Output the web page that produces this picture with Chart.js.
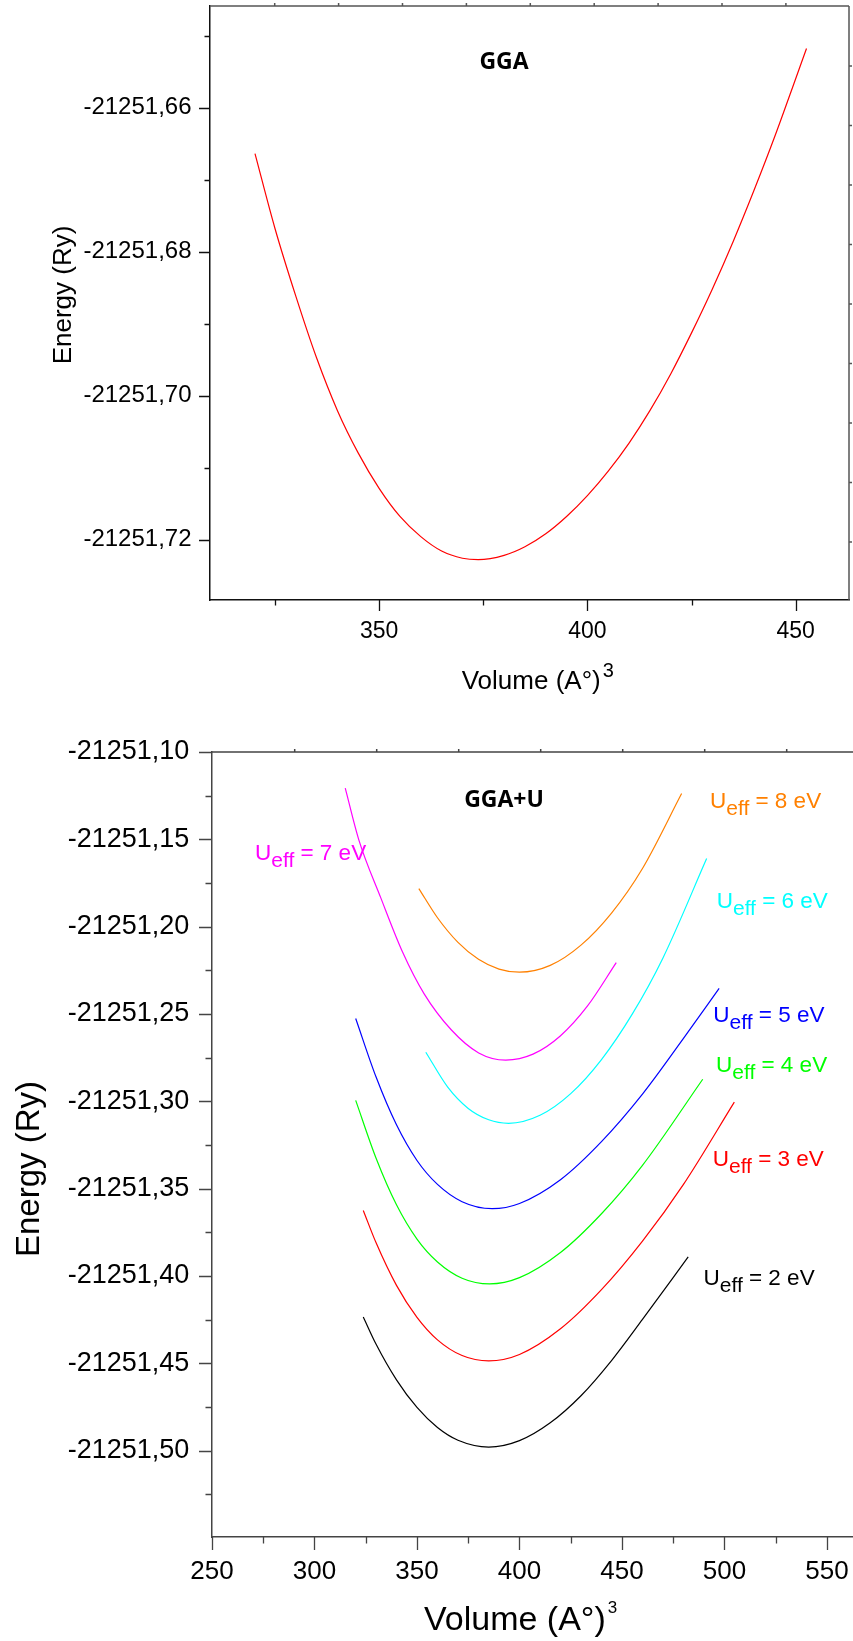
<!DOCTYPE html>
<html>
<head>
<meta charset="utf-8">
<title>E(V) curves GGA / GGA+U</title>
<script src="https://cdn.jsdelivr.net/npm/chart.js@4.4.0/dist/chart.umd.min.js"></script>
<style>
  html, body { margin: 0; padding: 0; background: #fff; }
  .panel { position: relative; width: 853px; }
  #topPanel { height: 700px; }
  #bottomPanel { height: 941px; }
</style>
</head>
<body>
<div class="panel" id="topPanel"><canvas id="ggaChart"></canvas></div>
<div class="panel" id="bottomPanel"><canvas id="uChart"></canvas></div>
<script>
// GGA curve (top panel) - volume (A°)^3 and energy (Ry)
const ggaVolume = [320.2, 325, 330, 335, 340, 345, 350, 355, 360, 365, 370, 373.8, 380, 385, 390, 395,
                   400, 405, 410, 415, 420, 425, 430, 435, 440, 445, 450, 452.6];
const ggaEnergy = [-21251.6664, -21251.6768, -21251.6862, -21251.6948, -21251.7021, -21251.7080, -21251.7129,
                   -21251.7168, -21251.7196, -21251.7216, -21251.7226, -21251.7228, -21251.7222, -21251.7210,
                   -21251.7192, -21251.7168, -21251.7139, -21251.7105, -21251.7066, -21251.7021, -21251.6970,
                   -21251.6913, -21251.6852, -21251.6786, -21251.6715, -21251.6640, -21251.6560, -21251.6518];

// GGA+U curves (bottom panel), one pair of arrays per Ueff
const vol2 = [323.8, 330, 340, 350, 360, 370, 385, 400, 415, 430, 445, 460, 482.3];
const en2  = [-21251.4235, -21251.4390, -21251.4595, -21251.4753, -21251.4868, -21251.4941, -21251.4980,
              -21251.4943, -21251.4841, -21251.4686, -21251.4483, -21251.4249, -21251.3891];
const vol3 = [323.8, 330, 340, 350, 360, 372, 385, 400, 420, 440, 460, 480, 504.8];
const en3  = [-21251.3625, -21251.3809, -21251.4054, -21251.4237, -21251.4366, -21251.4456, -21251.4487,
              -21251.4450, -21251.4303, -21251.4079, -21251.3801, -21251.3476, -21251.3005];
const vol4 = [320.1, 330, 340, 350, 360, 372, 385.4, 400, 420, 440, 460, 489.4];
const en4  = [-21251.2995, -21251.3325, -21251.3593, -21251.3789, -21251.3920, -21251.4013, -21251.4046,
              -21251.4010, -21251.3866, -21251.3644, -21251.3367, -21251.2874];
const vol5 = [320.1, 330, 340, 350, 360, 372, 386.7, 400, 420, 440, 460, 480, 497.4];
const en5  = [-21251.2526, -21251.2860, -21251.3135, -21251.3339, -21251.3476, -21251.3575, -21251.3615,
              -21251.3585, -21251.3449, -21251.3231, -21251.2959, -21251.2640, -21251.2354];
const vol6 = [354.3, 365, 375, 385, 394.7, 410, 425, 440, 455, 470, 491.3];
const en6  = [-21251.2719, -21251.2919, -21251.3041, -21251.3106, -21251.3126, -21251.3080, -21251.2956,
              -21251.2761, -21251.2501, -21251.2179, -21251.1610];
const vol7 = [315.0, 321.7, 332.3, 342.9, 353.5, 366.8, 380.1, 393.3, 406.6, 419.9, 433.2, 447.2];
const en7  = [-21251.1207, -21251.1506, -21251.1834, -21251.2144, -21251.2385, -21251.2592, -21251.2723,
              -21251.2764, -21251.2730, -21251.2626, -21251.2454, -21251.2206];
const vol8 = [350.9, 360, 370, 380, 390, 400, 415, 430, 445, 460, 479.1];
const en8  = [-21251.1782, -21251.1949, -21251.2090, -21251.2187, -21251.2243, -21251.2261, -21251.2222,
              -21251.2106, -21251.1921, -21251.1667, -21251.1238];

const uValues = [2, 3, 4, 5, 6, 7, 8];
const uVolumes = [vol2, vol3, vol4, vol5, vol6, vol7, vol8];
const uEnergies = [en2, en3, en4, en5, en6, en7, en8];
const uColors = ['#000000', '#ff0000', '#00ff00', '#0000ff', '#00ffff', '#ff00ff', '#ff8000'];

const pts = (xs, ys) => xs.map((x, i) => ({ x: x, y: ys[i] }));
const comma = v => v.toFixed(2).replace('.', ',');
const FONT = '"Liberation Sans", Arial, sans-serif';

function drawUeff(ctx, lab) {
  ctx.fillStyle = lab.color;
  ctx.textAlign = 'left';
  ctx.textBaseline = 'alphabetic';
  ctx.font = '22.5px ' + FONT;
  ctx.fillText('U', lab.x, lab.y);
  let cx = lab.x + ctx.measureText('U').width;
  ctx.font = '21px ' + FONT;
  ctx.fillText('eff', cx, lab.y + 7);
  cx += ctx.measureText('eff').width;
  ctx.font = '22.5px ' + FONT;
  ctx.fillText(' = ' + lab.u + ' eV', cx, lab.y);
}

// ticks, frame and the texts around the plot
const axisDeco = {
  id: 'axisDeco',
  afterDraw(chart, args, o) {
    const { ctx, chartArea: a } = chart;
    const xs = chart.scales.x, ys = chart.scales.y;
    ctx.save();

    ctx.strokeStyle = o.tickColor;
    ctx.lineWidth = o.tickWidth;
    ctx.beginPath();
    xs.ticks.forEach(t => {
      const px = Math.round(xs.getPixelForValue(t.value)) + 0.5;
      ctx.moveTo(px, a.bottom);
      ctx.lineTo(px, a.bottom + (t.label ? o.major : o.minor));
    });
    ys.ticks.forEach(t => {
      const py = Math.round(ys.getPixelForValue(t.value)) + 0.5;
      ctx.moveTo(a.left - (t.label ? o.major : o.minor), py);
      ctx.lineTo(a.left, py);
    });
    ctx.stroke();

    ctx.strokeStyle = o.frameColor;
    ctx.lineWidth = o.frameWidth;
    ctx.beginPath();
    ctx.moveTo(a.left, a.top);
    ctx.lineTo(a.right, a.top);
    for (let px = o.topTicks.start; px < a.right; px += o.topTicks.step) {
      ctx.moveTo(px, a.top);
      ctx.lineTo(px, a.top - 3);
    }
    if (o.rightTicks) {
      ctx.moveTo(a.right, a.top);
      ctx.lineTo(a.right, a.bottom);
      for (let py = o.rightTicks.start; py < a.bottom; py += o.rightTicks.step) {
        ctx.moveTo(a.right, py);
        ctx.lineTo(a.right + 3, py);
      }
    }
    ctx.stroke();

    // panel name
    ctx.fillStyle = '#000';
    ctx.textAlign = 'center';
    ctx.textBaseline = 'alphabetic';
    ctx.font = 'bold 23px "Open Sans", sans-serif';
    ctx.fillText(o.name.text, o.name.x, o.name.y);

    // y title
    ctx.save();
    ctx.translate(o.yTitle.x, o.yTitle.y);
    ctx.rotate(-Math.PI / 2);
    ctx.textBaseline = 'middle';
    ctx.font = o.yTitle.size + 'px ' + FONT;
    ctx.fillText('Energy (Ry)', 0, 0);
    ctx.restore();

    // x title with superscript
    ctx.textAlign = 'left';
    ctx.font = o.xTitle.size + 'px ' + FONT;
    ctx.fillText('Volume (A°)', o.xTitle.x, o.xTitle.y);
    const w = ctx.measureText('Volume (A°)').width;
    ctx.font = o.xTitle.supSize + 'px ' + FONT;
    ctx.fillText('3', o.xTitle.x + w + 2, o.xTitle.y - o.xTitle.supRise);

    (o.labels || []).forEach(l => drawUeff(ctx, l));
    ctx.restore();
  }
};

function baseOptions(xMin, xMax, xStep, yMin, yMax, yStep, yMajor, sizes) {
  return {
    animation: false,
    responsive: true,
    maintainAspectRatio: false,
    devicePixelRatio: 1,
    layout: { padding: sizes.padding },
    elements: { point: { radius: 0 }, line: { borderWidth: 1.2, cubicInterpolationMode: 'monotone' } },
    scales: {
      x: {
        type: 'linear', min: xMin, max: xMax,
        grid: { display: false, drawTicks: false },
        border: { display: true, color: sizes.axisColor, width: 1.5 },
        ticks: {
          stepSize: xStep, includeBounds: false, autoSkip: false, maxRotation: 0,
          padding: sizes.xPad, color: '#000', font: { family: FONT, size: sizes.xFont },
          callback: v => (Math.abs(v / 50 - Math.round(v / 50)) < 1e-6 ? String(v) : '')
        },
        afterFit: s => { s.height = sizes.xHeight; s.paddingLeft = 0; s.paddingRight = 0; }
      },
      y: {
        type: 'linear', min: yMin, max: yMax,
        grid: { display: false, drawTicks: false },
        border: { display: true, color: sizes.axisColor, width: 1.5 },
        ticks: {
          stepSize: yStep, includeBounds: false, autoSkip: false,
          padding: sizes.yPad, color: '#000', font: { family: FONT, size: sizes.yFont },
          callback: v => {
            const r = v / yMajor;
            return Math.abs(r - Math.round(r)) < 1e-4 ? comma(v) : '';
          }
        },
        afterFit: s => { s.width = sizes.yWidth; s.paddingTop = 0; s.paddingBottom = 0; }
      }
    }
  };
}

// top panel: GGA
const topOpts = baseOptions(309.4, 462.8, 25, -21251.7284, -21251.6459, 0.01, 0.02, {
  padding: { top: 6, right: 4, left: 0, bottom: 0 },
  axisColor: '#111', xFont: 23, yFont: 24, xPad: 18, yPad: 18.5, xHeight: 100, yWidth: 210
});
topOpts.plugins = {
  legend: { display: false }, tooltip: { enabled: false },
  axisDeco: {
    tickColor: '#111', tickWidth: 1.3, major: 11, minor: 5.5,
    frameColor: '#555', frameWidth: 1.5,
    topTicks: { start: 274.7, step: 63.9 }, rightTicks: { start: 66, step: 59.5 },
    name: { text: 'GGA', x: 504, y: 69 },
    yTitle: { x: 64, y: 295, size: 26 },
    xTitle: { x: 461.7, y: 689, size: 26, supSize: 20, supRise: 12 }
  }
};

new Chart(document.getElementById('ggaChart'), {
  type: 'line',
  data: { datasets: [{ data: pts(ggaVolume, ggaEnergy), borderColor: '#ff0000' }] },
  options: topOpts,
  plugins: [axisDeco]
});

// bottom panel: GGA+U
const labelSpots = [
  { x: 703.5, y: 585 }, { x: 712.7, y: 465.7 }, { x: 716, y: 371.8 }, { x: 713.3, y: 321.8 },
  { x: 716.7, y: 207.5 }, { x: 255, y: 160 }, { x: 710, y: 107.5 }
];
const botOpts = baseOptions(250, 562.7, 25, -21251.5495, -21251.10, 0.025, 0.05, {
  padding: { top: 52, right: 0, left: 0, bottom: 0 },
  axisColor: '#444', xFont: 26, yFont: 27, xPad: 19.5, yPad: 22.7, xHeight: 104, yWidth: 212
});
botOpts.plugins = {
  legend: { display: false }, tooltip: { enabled: false },
  axisDeco: {
    tickColor: '#444', tickWidth: 1.3, major: 13, minor: 6.5,
    frameColor: '#444', frameWidth: 1.5,
    topTicks: { start: 294.7, step: 82 }, rightTicks: null,
    name: { text: 'GGA+U', x: 504, y: 107.3 },
    yTitle: { x: 30, y: 469, size: 33 },
    xTitle: { x: 424, y: 930, size: 34, supSize: 17, supRise: 17 },
    labels: uValues.map((u, i) => ({ u: u, color: uColors[i], x: labelSpots[i].x, y: labelSpots[i].y }))
  }
};

new Chart(document.getElementById('uChart'), {
  type: 'line',
  data: {
    datasets: uValues.map((u, i) => ({
      label: 'Ueff = ' + u + ' eV',
      data: pts(uVolumes[i], uEnergies[i]),
      borderColor: uColors[i]
    }))
  },
  options: botOpts,
  plugins: [axisDeco]
});
</script>
</body>
</html>
